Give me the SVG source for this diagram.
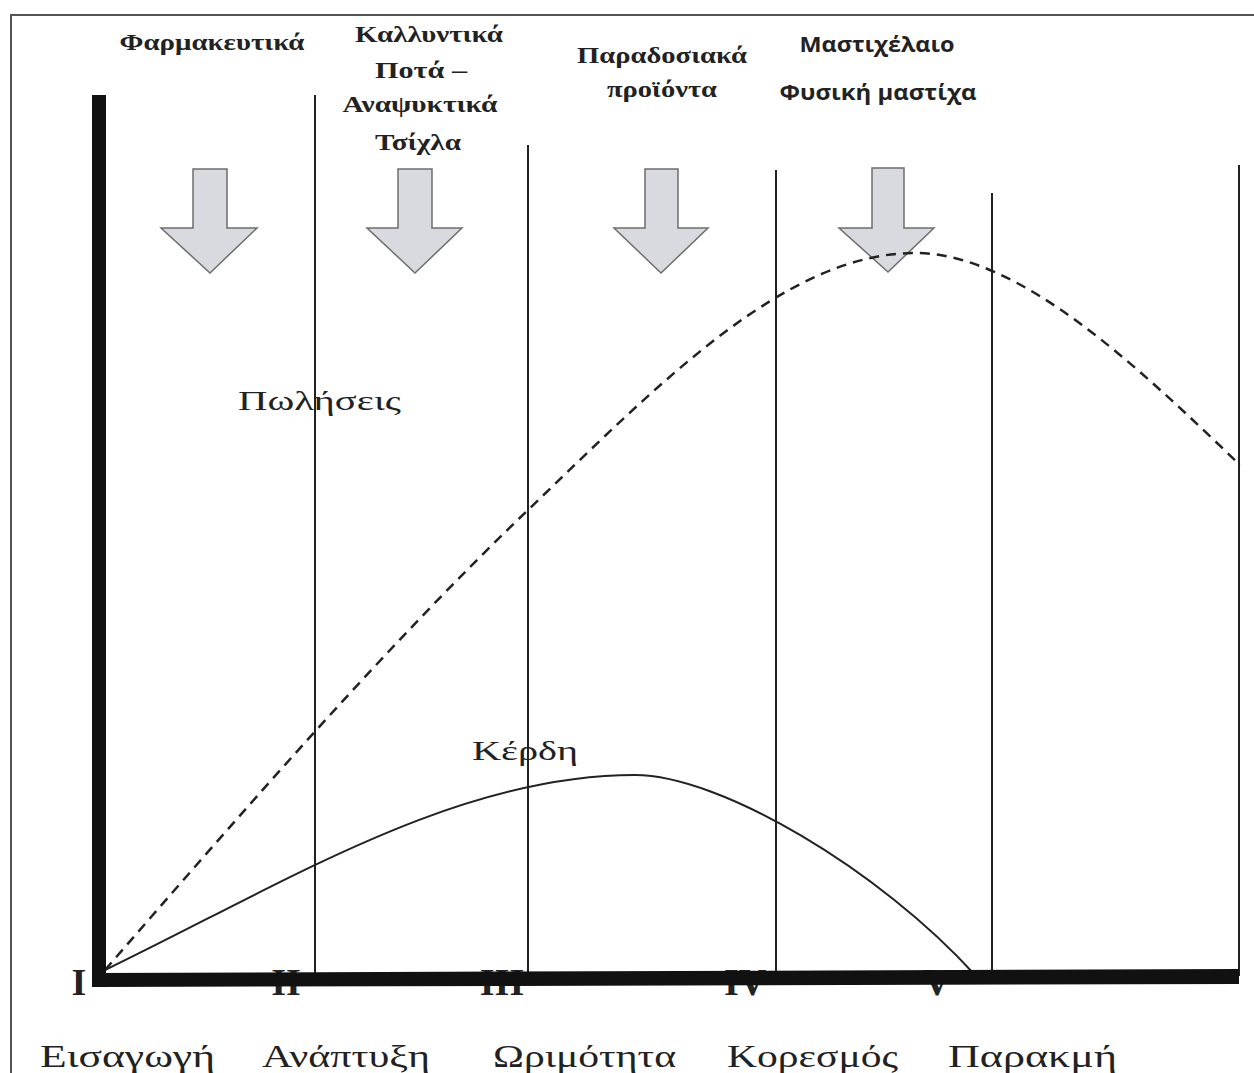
<svg xmlns="http://www.w3.org/2000/svg" width="1254" height="1073" viewBox="0 0 1254 1073">
<style>
.top{font-family:"Liberation Serif",serif;font-weight:bold;font-size:23px;fill:#222;text-anchor:middle}
.tops{font-family:"Open Sans","Liberation Sans",sans-serif;font-weight:bold;font-size:21px;fill:#222;text-anchor:middle}
.rom{font-family:"Liberation Serif",serif;font-weight:bold;font-size:38px;fill:#222;text-anchor:middle}
.stage{font-family:"Liberation Serif",serif;font-size:32px;fill:#222}
.curv{font-family:"Liberation Serif",serif;font-size:28px;fill:#222}
.arrow{fill:#d9dadf;stroke:#6e6e6e;stroke-width:1.5}
.vl{stroke:#222;stroke-width:2}
</style>
<rect width="1254" height="1073" fill="#ffffff"/>
<g id="frame" fill="none" stroke="#555" stroke-width="2">
<path d="M11,1073 L11,15 L1254,15"/>
</g>
<g id="numerals">
<text class="rom" x="79" y="995">I</text>
<text class="rom" x="286" y="995">II</text>
<text class="rom" x="502" y="995">III</text>
<text class="rom" x="745" y="995">IV</text>
<text class="rom" x="937" y="995">V</text>
</g>
<g id="arrows">
<polygon class="arrow" points="193,169 227,169 227,228 257,228 210,273 161,228 193,228"/>
<polygon class="arrow" points="398,169 432,169 432,228 462,228 415,273 367,228 398,228"/>
<polygon class="arrow" points="645,169 678,169 678,228 708,228 661,273 614,228 645,228"/>
<polygon class="arrow" points="872,168 904,168 904,228 934,228 888,272 839,228 872,228"/>
</g>
<g id="connectors">
<line class="vl" x1="315" y1="95" x2="315" y2="976"/>
<line class="vl" x1="528" y1="145" x2="528" y2="976"/>
<line class="vl" x1="776" y1="170" x2="776" y2="976"/>
<line class="vl" x1="992" y1="193" x2="992" y2="976" stroke-width="3"/>
<line class="vl" x1="1239" y1="165" x2="1239" y2="976" stroke-width="3"/>
<path id="sales" d="M105,970 C245,809 388,644 528,510 C658,385 785,253 915,253 C1020,253 1140,369 1240,465" fill="none" stroke="#222" stroke-width="2.5" stroke-dasharray="10,7"/>
<path id="profit" d="M105,970 C285,883 455,775 635,775 C720,775 880,870 975,975" fill="none" stroke="#222" stroke-width="2"/>
</g>
<g id="axes" fill="#111">
<rect x="92" y="95" width="14" height="892"/>
<polygon points="97,973 1239,969 1239,984 97,987"/>
</g>
<g id="labels">
<text class="top" x="212" y="50" textLength="185" lengthAdjust="spacingAndGlyphs">Φαρμακευτικά</text>
<text class="top" x="429" y="42" textLength="148" lengthAdjust="spacingAndGlyphs">Καλλυντικά</text>
<text class="top" x="421" y="78" textLength="92" lengthAdjust="spacingAndGlyphs">Ποτά –</text>
<text class="top" x="420" y="112" textLength="155" lengthAdjust="spacingAndGlyphs">Αναψυκτικά</text>
<text class="top" x="418" y="150" textLength="86" lengthAdjust="spacingAndGlyphs">Τσίχλα</text>
<text class="top" x="662" y="63" textLength="170" lengthAdjust="spacingAndGlyphs">Παραδοσιακά</text>
<text class="top" x="662" y="97" textLength="110" lengthAdjust="spacingAndGlyphs">προϊόντα</text>
<text class="tops" x="877" y="52" textLength="155" lengthAdjust="spacingAndGlyphs">Μαστιχέλαιο</text>
<text class="tops" x="878" y="100" textLength="197" lengthAdjust="spacingAndGlyphs">Φυσική μαστίχα</text>
<text class="curv" x="238" y="410" textLength="163" lengthAdjust="spacingAndGlyphs">Πωλήσεις</text>
<text class="curv" x="472" y="760" textLength="106" lengthAdjust="spacingAndGlyphs">Κέρδη</text>
<text class="stage" x="40" y="1067" textLength="175" lengthAdjust="spacingAndGlyphs">Εισαγωγή</text>
<text class="stage" x="262" y="1067" textLength="168" lengthAdjust="spacingAndGlyphs">Ανάπτυξη</text>
<text class="stage" x="493" y="1067" textLength="183" lengthAdjust="spacingAndGlyphs">Ωριμότητα</text>
<text class="stage" x="727" y="1067" textLength="171" lengthAdjust="spacingAndGlyphs">Κορεσμός</text>
<text class="stage" x="948" y="1067" textLength="169" lengthAdjust="spacingAndGlyphs">Παρακμή</text>
</g>
</svg>
